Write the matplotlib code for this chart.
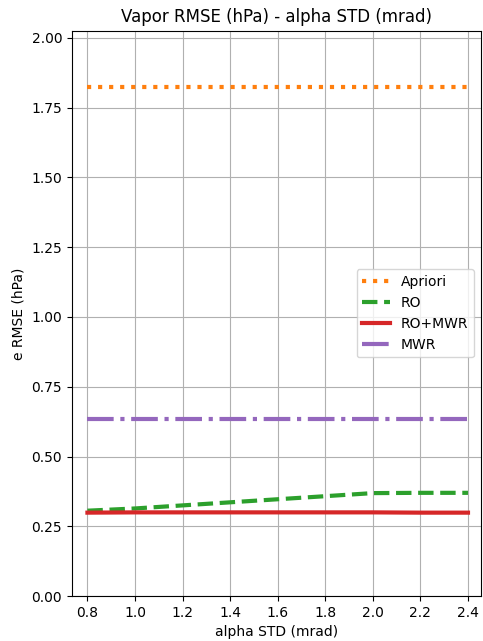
import numpy as np
import matplotlib
matplotlib.use("Agg")
import matplotlib.pyplot as plt

# alpha STD values (mrad)
alpha_std = [0.8, 1.0, 1.2, 1.4, 1.6, 1.8, 2.0, 2.2, 2.4]

# vapor RMSE (hPa) per configuration
apriori = [1.825] * 9
ro = [0.306, 0.314, 0.325, 0.336, 0.347, 0.358, 0.369, 0.370, 0.370]
ro_mwr = [0.299, 0.300, 0.300, 0.300, 0.300, 0.300, 0.300, 0.299, 0.299]
mwr = [0.633] * 9

fig = plt.figure(figsize=(4.83, 6.41), dpi=100)
ax = fig.add_axes([0.149, 0.070, 0.847, 0.882])

ax.plot(alpha_std, apriori, ":", color="tab:orange", lw=3, label="Apriori")
ax.plot(alpha_std, ro, "--", color="tab:green", lw=3, label="RO")
ax.plot(alpha_std, ro_mwr, "-", color="tab:red", lw=3, label="RO+MWR")
ax.plot(alpha_std, mwr, "-.", color="tab:purple", lw=3, label="MWR")

ax.set_xlim(0.735, 2.455)
ax.set_ylim(0, 2.025)
ax.set_xticks(np.arange(0.8, 2.41, 0.2))
ax.set_title("Vapor RMSE (hPa) - alpha STD (mrad)")
ax.set_xlabel("alpha STD (mrad)")
ax.set_ylabel("e RMSE (hPa)")
ax.grid(True)
ax.legend(loc="center right")

fig.savefig("out.png", dpi=100)
